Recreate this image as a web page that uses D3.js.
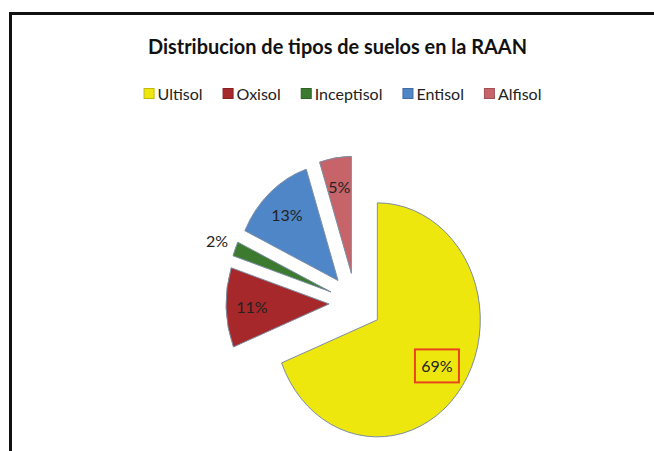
<!DOCTYPE html>
<html>
<head>
<meta charset="utf-8">
<script src="https://cdn.jsdelivr.net/npm/d3@7"></script>
<style>
  body { margin: 0; background: #fff; }
  svg { display: block; }
</style>
</head>
<body>
<div id="chart"></div>
<script>
// Data
const soilTypes = ["Ultisol", "Oxisol", "Inceptisol", "Entisol", "Alfisol"];
const soilShares = [69, 11, 2, 13, 5];
const soilColors = ["#EDE70E", "#A6282B", "#3B7A2F", "#4F86C8", "#C6646A"];
const chartTitle = "Distribucion de tipos de suelos en la RAAN";

const width = 654, height = 451;
const fontFam = "Lato, 'Open Sans', sans-serif";

const svg = d3.select("#chart")
  .append("svg")
  .attr("width", width)
  .attr("height", height);

// chart frame (right/bottom run off the picture)
svg.append("rect")
  .attr("x", 10.5).attr("y", 13.5)
  .attr("width", 700).attr("height", 500)
  .attr("fill", "none")
  .attr("stroke", "#111")
  .attr("stroke-width", 3);

// Title
svg.append("text")
  .attr("x", 337.5)
  .attr("y", 54)
  .attr("text-anchor", "middle")
  .attr("textLength", 379)
  .attr("lengthAdjust", "spacingAndGlyphs")
  .style("font-family", fontFam)
  .style("font-weight", "bold")
  .style("font-size", "20px")
  .style("fill", "#111")
  .text(chartTitle);

// Legend
const legend = svg.append("g");
const gap = 20;
let lx = 0;
soilTypes.forEach((name, i) => {
  const item = legend.append("g").attr("transform", `translate(${lx},0)`);
  item.append("rect")
    .attr("x", 0.5).attr("y", -11.5)
    .attr("width", 10).attr("height", 10)
    .attr("fill", soilColors[i])
    .attr("stroke", d3.color(soilColors[i]).darker(0.6))
    .attr("stroke-width", 1);
  const t = item.append("text")
    .attr("x", 14)
    .attr("y", 0)
    .style("font-family", fontFam)
    .style("font-size", "16px")
    .style("fill", "#222")
    .text(name);
  lx += 14 + t.node().getComputedTextLength() + gap;
});
lx -= gap;
legend.attr("transform", `translate(${342.5 - lx / 2},100)`);

// Pie (slightly squeezed horizontally, every slice pulled out)
const radius = 117, squeeze = 0.88, explode = 30;
const cx = 355.5, cy = 303;

const pie = d3.pie().sort(null).value(d => d)(soilShares);
const arc = d3.arc().innerRadius(0).outerRadius(radius);

const pieG = svg.append("g")
  .attr("transform", `translate(${cx},${cy}) scale(${squeeze},1)`);

const dir = d => {
  const a = (d.startAngle + d.endAngle) / 2;
  return [Math.sin(a), -Math.cos(a)];
};

pieG.selectAll("path")
  .data(pie)
  .enter()
  .append("path")
  .attr("transform", d => {
    const [dx, dy] = dir(d);
    return `translate(${dx * explode},${dy * explode})`;
  })
  .attr("d", arc)
  .attr("fill", (d, i) => soilColors[i])
  .attr("stroke", "#7d8ca3")
  .attr("stroke-width", 1)
  .attr("vector-effect", "non-scaling-stroke");

// Labels
pie.forEach((d, i) => {
  const [dx, dy] = dir(d);
  const r = explode + (d.value < 3 ? 1.19 : i === 0 ? 0.7 : 0.75) * radius;
  const x = cx + dx * r * squeeze;
  const y = cy + dy * r;
  svg.append("text")
    .attr("x", x)
    .attr("y", y)
    .attr("text-anchor", "middle")
    .attr("dominant-baseline", "central")
    .style("font-family", fontFam)
    .style("font-size", "16px")
    .style("fill", "#222")
    .text(d.value + "%");
  if (i === 0) {
    // highlighted box round the biggest share
    svg.append("rect")
      .attr("x", x - 22).attr("y", y - 16.5)
      .attr("width", 44).attr("height", 33)
      .attr("fill", "none")
      .attr("stroke", "#E8451E")
      .attr("stroke-width", 2);
  }
});
</script>
</body>
</html>
